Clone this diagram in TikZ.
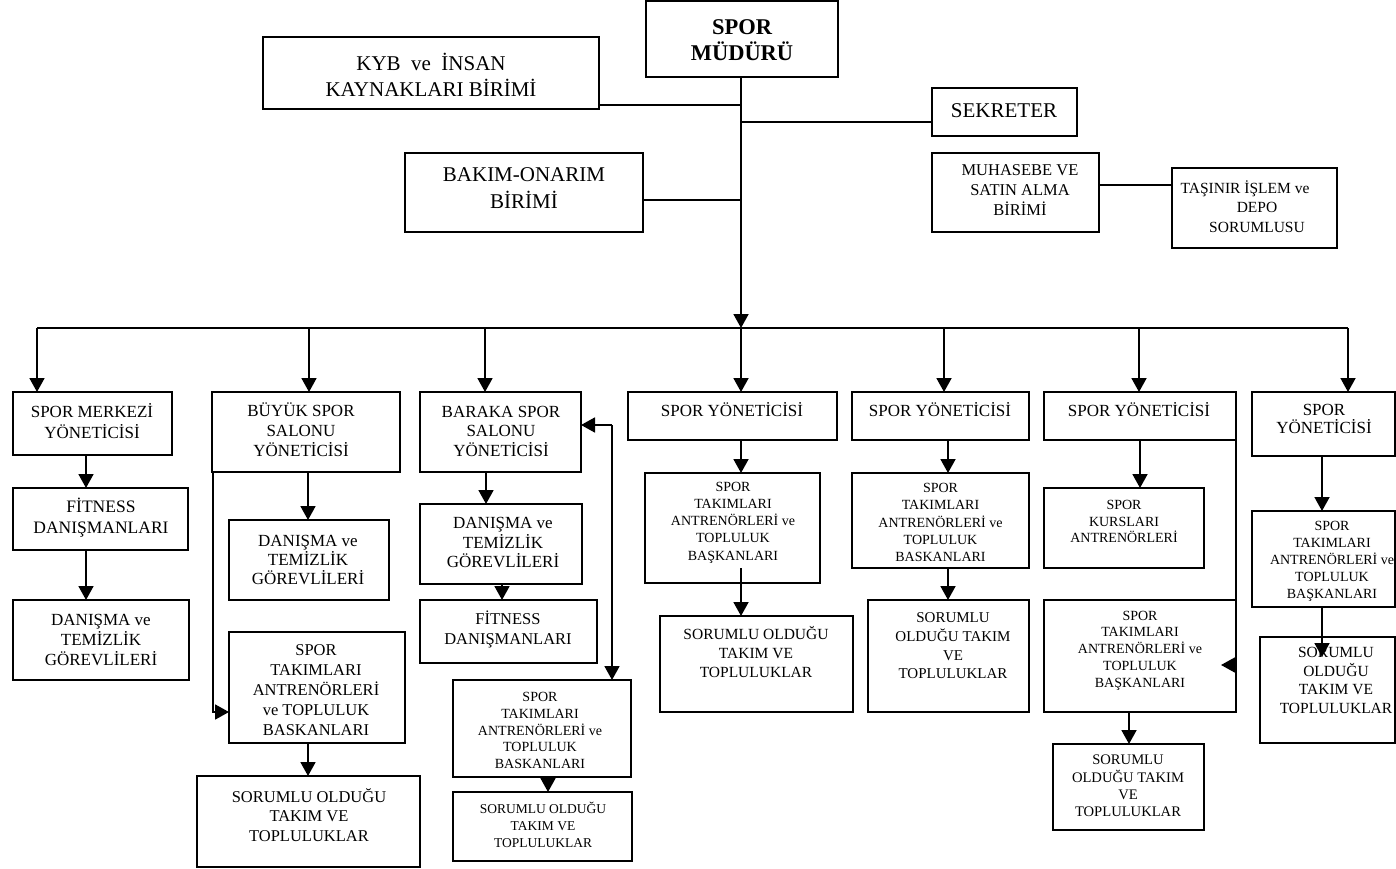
\documentclass[tikz,border=0pt]{standalone}
\usepackage{fontspec}
\setmainfont{Liberation Serif}
\usetikzlibrary{arrows.meta}
\newcommand\fs[2]{\fontsize{#1}{#2}\selectfont}
\newcommand\bx[5]{\node[bxs, minimum width={(#4-#2)*1pt}, minimum height={(#5-#3)*1pt}] (#1) at ({(#2+#4)/2},{(#3+#5)/2}) {};}
\tikzset{
  bxs/.style={draw, line width=1.8pt, inner sep=0pt, outer sep=0pt, fill=white},
  txt/.style={align=center, inner sep=0pt},
  ln/.style={line width=1.8pt},
  arr/.style={line width=1.8pt, -{Triangle[length=14pt,width=15pt]}}
}
\begin{document}
\begin{tikzpicture}[x=1pt,y=-1pt]
\fill[white] (0,0) rectangle (1396,869);
\useasboundingbox (0,0) rectangle (1396,869);

% ---------- boxes ----------
\bx{mudur}{646}{1}{838}{77}
\bx{kyb}{263}{37}{599}{109}
\bx{sek}{932}{88}{1077}{136}
\bx{bakim}{405}{153}{643}{232}
\bx{muh}{932}{153}{1099}{232}
\bx{tas}{1172}{168}{1337}{248}

\bx{smy}{13}{392}{172}{455}
\bx{buyuk}{212}{392}{400}{472}
\bx{baraka}{420}{392}{581}{472}
\bx{sya}{628}{392}{837}{440}
\bx{syb}{852}{392}{1029}{440}
\bx{syc}{1044}{392}{1236}{440}
\bx{syd}{1252}{392}{1395}{456}

\bx{fita}{13}{488}{188}{550}
\bx{dana}{13}{600}{189}{680}
\bx{danb}{229}{520}{389}{600}
\bx{takb}{229}{632}{405}{743}
\bx{sorb}{197}{776}{420}{867}
\bx{danc}{420}{504}{582}{584}
\bx{fitc}{420}{600}{597}{663}
\bx{takc}{453}{680}{631}{777}
\bx{sorc}{453}{792}{632}{861}
\bx{takd}{645}{473}{820}{583}
\bx{sord}{660}{616}{853}{712}
\bx{take}{852}{473}{1029}{568}
\bx{sore}{868}{600}{1029}{712}
\bx{kurs}{1044}{488}{1204}{568}
\bx{takf}{1044}{600}{1236}{712}
\bx{sorf}{1053}{744}{1204}{830}
\bx{takg}{1252}{511}{1395}{607}
\bx{sorg}{1260}{637}{1395}{743}

% ---------- texts ----------
\node[txt, font=\fs{22.5}{26}\bfseries] (mudurt) at (742,40) {SPOR\\MÜDÜRÜ};
\node[txt, font=\fs{21}{26}] (kybt) at (431,75) {KYB\ \ ve\ \ İNSAN\\KAYNAKLARI BİRİMİ};
\node[txt, font=\fs{21}{26}] (sekt) at (1004,111) {SEKRETER};
\node[txt, font=\fs{21}{27}] (bakimt) at (524,188.5) {BAKIM-ONARIM\\BİRİMİ};
\node[txt, font=\fs{16.5}{20}] (muht) at (1020,190) {MUHASEBE VE\\SATIN ALMA\\BİRİMİ};
\node[txt, font=\fs{15.5}{19.5}] (tast) at (1257,206.5) {TAŞINIR İŞLEM ve\hspace*{24pt}\\DEPO\\SORUMLUSU};

\node[txt, font=\fs{17}{21}] (smyt) at (92,421) {SPOR MERKEZİ\\YÖNETİCİSİ};
\node[txt, font=\fs{17}{20}] (buyukt) at (301,430) {BÜYÜK SPOR\\SALONU\\YÖNETİCİSİ};
\node[txt, font=\fs{17}{19.5}] (barakat) at (501,431) {BARAKA SPOR\\SALONU\\YÖNETİCİSİ};
\node[txt, font=\fs{17}{20}] (syat) at (732,410) {SPOR YÖNETİCİSİ};
\node[txt, font=\fs{17}{20}] (sybt) at (940,410) {SPOR YÖNETİCİSİ};
\node[txt, font=\fs{17}{20}] (syct) at (1139,410) {SPOR YÖNETİCİSİ};
\node[txt, font=\fs{17}{18.5}] (sydt) at (1324,419) {SPOR\\YÖNETİCİSİ};

\node[txt, font=\fs{17.5}{21}] (fitat) at (101,518) {FİTNESS\\DANIŞMANLARI};
\node[txt, font=\fs{17}{20}] (danat) at (101,640) {DANIŞMA ve\\TEMİZLİK\\GÖREVLİLERİ};
\node[txt, font=\fs{17}{19}] (danbt) at (308,560) {DANIŞMA ve\\TEMİZLİK\\GÖREVLİLERİ};
\node[txt, font=\fs{16.5}{20}] (takbt) at (316,690) {SPOR\\TAKIMLARI\\ANTRENÖRLERİ\\ve TOPLULUK\\BASKANLARI};
\node[txt, font=\fs{16.5}{19.5}] (sorbt) at (309,815) {SORUMLU OLDUĞU\\TAKIM VE\\TOPLULUKLAR};
\node[txt, font=\fs{17}{19.5}] (danct) at (503,542.5) {DANIŞMA ve\\TEMİZLİK\\GÖREVLİLERİ};
\node[txt, font=\fs{16.5}{20}] (fitct) at (508,629) {FİTNESS\\DANIŞMANLARI};
\node[txt, font=\fs{14}{16.7}] (takct) at (540,730.5) {SPOR\\TAKIMLARI\\ANTRENÖRLERİ ve\\TOPLULUK\\BASKANLARI};
\node[txt, font=\fs{13.5}{17}] (sorct) at (543,825) {SORUMLU OLDUĞU\\TAKIM VE\\TOPLULUKLAR};
\node[txt, font=\fs{14}{17.2}] (takdt) at (733,522.5) {SPOR\\TAKIMLARI\\ANTRENÖRLERİ ve\\TOPLULUK\\BAŞKANLARI};
\node[txt, font=\fs{15.5}{19}] (sordt) at (756,652.5) {SORUMLU OLDUĞU\\TAKIM VE\\TOPLULUKLAR};
\node[txt, font=\fs{14}{17.2}] (takedt) at (940.5,522.5) {SPOR\\TAKIMLARI\\ANTRENÖRLERİ ve\\TOPLULUK\\BASKANLARI};
\node[txt, font=\fs{15}{18.7}] (soret) at (953,646) {SORUMLU\\OLDUĞU TAKIM\\VE\\TOPLULUKLAR};
\node[txt, font=\fs{14}{16.5}] (kurst) at (1124,521.5) {SPOR\\KURSLARI\\ANTRENÖRLERİ};
\node[txt, font=\fs{14}{16.7}] (takft) at (1140,650.5) {SPOR\\TAKIMLARI\\ANTRENÖRLERİ ve\\TOPLULUK\\BAŞKANLARI};
\node[txt, font=\fs{14.6}{17.3}] (sorft) at (1128,786) {SORUMLU\\OLDUĞU TAKIM\\VE\\TOPLULUKLAR};
\node[txt, font=\fs{14}{17}] (takgt) at (1332,561) {SPOR\\TAKIMLARI\\ANTRENÖRLERİ ve\\TOPLULUK\\BAŞKANLARI};
\node[txt, font=\fs{15.5}{18.5}] (sorgt) at (1336,680.5) {SORUMLU\\OLDUĞU\\TAKIM VE\\TOPLULUKLAR};

% ---------- coordinates ----------
\coordinate (bus) at (741,328);
\coordinate (da) at (37,328);
\coordinate (db) at (309,328);
\coordinate (dc) at (485,328);
\coordinate (de) at (944,328);
\coordinate (df) at (1139,328);
\coordinate (dg) at (1348,328);
\coordinate (jk) at (741,105);
\coordinate (js) at (741,122);
\coordinate (jb) at (741,200);
\coordinate (jm) at (1172,185);

% ---------- top connectors ----------
\draw[arr] (mudur.south -| bus) -- (bus);
\draw[ln] (jk -| kyb.east) -- (jk);
\draw[ln] (js) -- (js -| sek.west);
\draw[ln] (jb -| bakim.east) -- (jb);
\draw[ln] (jm -| muh.east) -- (jm -| tas.west);

% ---------- bus ----------
\draw[ln] (da) -- (dg);
\draw[arr] (da) -- (da |- smy.north);
\draw[arr] (db) -- (db |- buyuk.north);
\draw[arr] (dc) -- (dc |- baraka.north);
\draw[arr] (bus) -- (bus |- sya.north);
\draw[arr] (de) -- (de |- syb.north);
\draw[arr] (df) -- (df |- syc.north);
\draw[arr] (dg) -- (dg |- syd.north);

% ---------- column 1 ----------
\coordinate (xa) at (86,0);
\draw[arr] (smy.south -| xa) -- (fita.north -| xa);
\draw[arr] (fita.south -| xa) -- (dana.north -| xa);

% ---------- column 2 ----------
\coordinate (xb) at (308,0);
\draw[arr] (buyuk.south -| xb) -- (danb.north -| xb);
\draw[arr] (takb.south -| xb) -- (sorb.north -| xb);
\coordinate (bs) at (213,712);
\draw[arr] (bs |- buyuk.south) -- (bs) -- (bs -| takb.west);

% ---------- column 3 ----------
\coordinate (xc) at (486,0);
\coordinate (xc2) at (502,0);
\coordinate (xc3) at (548,0);
\draw[arr] (baraka.south -| xc) -- (danc.north -| xc);
\draw[arr] (danc.south -| xc2) -- (fitc.north -| xc2);
\draw[arr] (takc.south -| xc3) -- (sorc.north -| xc3);
\coordinate (cb) at (612,425);
\draw[arr] (cb) -- (cb -| baraka.east);
\draw[arr] (cb) -- (cb |- takc.north);

% ---------- column 4 ----------
\coordinate (dd) at (741,568);
\draw[arr] (sya.south -| bus) -- (takd.north -| bus);
\draw[arr] (dd) -- (dd |- sord.north);

% ---------- column 5 ----------
\coordinate (xe) at (948,0);
\draw[arr] (syb.south -| xe) -- (take.north -| xe);
\draw[arr] (take.south -| xe) -- (sore.north -| xe);

% ---------- column 6 ----------
\coordinate (xf) at (1140,0);
\coordinate (xf2) at (1129,0);
\draw[arr] (syc.south -| xf) -- (kurs.north -| xf);
\draw[arr] (takf.south -| xf2) -- (sorf.north -| xf2);
\coordinate (fs) at (1236,665);
\coordinate (fs2) at (1221,665);
\draw[ln] (syc.south east) -- (fs);
\draw[arr] (fs) -- (fs2);

% ---------- column 7 ----------
\coordinate (xg) at (1322,0);
\coordinate (gs) at (1322,657);
\draw[arr] (syd.south -| xg) -- (takg.north -| xg);
\draw[arr] (gs |- takg.south) -- (gs);
\end{tikzpicture}
\end{document}
